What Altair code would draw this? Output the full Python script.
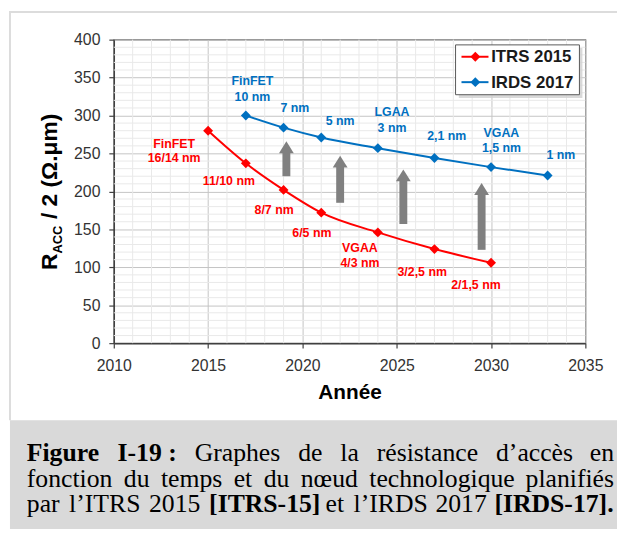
import altair as alt
import pandas as pd

# ---------------- data ----------------
series_names = ["ITRS 2015", "IRDS 2017"]
series_colors = ["#ff0000", "#0070c0"]

years_itrs = [2015, 2017, 2019, 2021, 2024, 2027, 2030]
racc_itrs = [280, 237, 202, 172, 146, 124, 106]
years_irds = [2017, 2019, 2021, 2024, 2027, 2030, 2033]
racc_irds = [300, 284, 271, 257, 244, 232, 221]

itrs_labels = ["FinFET", "16/14 nm", "11/10 nm", "8/7 nm", "6/5 nm", "VGAA", "4/3 nm", "3/2,5 nm", "2/1,5 nm"]
itrs_label_x = [2013.2, 2013.2, 2016.1, 2018.5, 2020.5, 2023.05, 2023.05, 2026.35, 2029.2]
itrs_label_y = [262, 244, 213, 175, 145, 125, 106, 94, 77]

irds_labels = ["FinFET", "10 nm", "7 nm", "5 nm", "LGAA", "3 nm", "2,1 nm", "VGAA", "1,5 nm", "1 nm"]
irds_label_x = [2017.35, 2017.35, 2019.6, 2022.0, 2024.75, 2024.75, 2027.65, 2030.55, 2030.55, 2033.7]
irds_label_y = [346, 325, 310, 293, 305, 284, 273, 277, 257, 248]

arrow_x = [2019.15, 2022.0, 2025.35, 2029.5]
arrow_base = [220, 185, 157, 123]
arrow_tip = [266, 247, 229, 211]

x_major = list(range(2010, 2036, 5))
y_major = list(range(0, 401, 50))
x_minor = [v for v in range(2010, 2036) if v % 5 != 0]
y_minor = [v for v in range(0, 401, 10) if v % 50 != 0]

# ---------------- tables ----------------
df_lines = pd.concat([
    pd.DataFrame({"year": years_itrs, "r": racc_itrs, "serie": series_names[0]}),
    pd.DataFrame({"year": years_irds, "r": racc_irds, "serie": series_names[1]}),
])
df_lab_itrs = pd.DataFrame({"x": itrs_label_x, "y": itrs_label_y, "t": itrs_labels})
df_lab_irds = pd.DataFrame({"x": irds_label_x, "y": irds_label_y, "t": irds_labels})
df_arrows = pd.DataFrame({"x": arrow_x, "base": arrow_base, "tip": arrow_tip})
df_arrows["shaft_top"] = df_arrows["tip"] - 13
df_xminor = pd.DataFrame({"v": x_minor})
df_yminor = pd.DataFrame({"v": y_minor})
one = pd.DataFrame({"a": [0]})

SANS = "Liberation Sans"
SERIF = "Liberation Serif"

xscale = alt.Scale(domain=[2010, 2035], nice=False, zero=False)
yscale = alt.Scale(domain=[0, 400], nice=False)

xaxis = alt.Axis(
    values=x_major, format="d", title="Année", labelOverlap=False, labelFlush=False,
    gridColor="#c4c4c4",
    titleFontSize=21, titleFontWeight="bold", titleColor="#000000", titlePadding=8,
)
yaxis = alt.Axis(
    values=y_major, format="d", title=None, labelOverlap=False, labelFlush=False,
    gridColor="#c4c4c4",
)


def X(field):
    return alt.X(field, type="quantitative", scale=xscale, axis=xaxis)


def Y(field):
    return alt.Y(field, type="quantitative", scale=yscale, axis=yaxis)


# minor grid lines
minor_x = alt.Chart(df_xminor).mark_rule(color="#e9e9e9", strokeWidth=1).encode(x=X("v"))
minor_y = alt.Chart(df_yminor).mark_rule(color="#e9e9e9", strokeWidth=1).encode(y=Y("v"))

color = alt.Color("serie:N", scale=alt.Scale(domain=series_names, range=series_colors), legend=None)

base = alt.Chart(df_lines).encode(
    x=X("year"), y=Y("r"), color=color, detail="serie:N",
)
lines = base.mark_line(strokeWidth=2, interpolate="monotone")
points = base.mark_point(shape="diamond", filled=True, size=100, opacity=1)

shafts = alt.Chart(df_arrows).mark_rule(strokeWidth=8, color="#808080").encode(
    x=X("x"), y=Y("base"), y2="shaft_top:Q")
heads = alt.Chart(df_arrows).mark_point(
    shape="M-1,1.6L1,1.6L0,0Z", filled=True, size=225, color="#808080", opacity=1
).encode(x=X("x"), y=Y("tip"))

lab_itrs = alt.Chart(df_lab_itrs).mark_text(
    font=SANS, fontSize=12.5, fontWeight="bold", color=series_colors[0], baseline="middle"
).encode(x=X("x"), y=Y("y"), text="t:N")
lab_irds = alt.Chart(df_lab_irds).mark_text(
    font=SANS, fontSize=12.5, fontWeight="bold", color=series_colors[1], baseline="middle"
).encode(x=X("x"), y=Y("y"), text="t:N")


def ptext(txt, x, y, **kw):
    return alt.Chart(one).mark_text(**kw).encode(
        x=alt.value(x), y=alt.value(y), text=alt.value(txt))


def prule(x, y, x2=None, y2=None, **kw):
    enc = dict(x=alt.value(x), y=alt.value(y))
    if x2 is not None:
        enc["x2"] = alt.value(x2)
    if y2 is not None:
        enc["y2"] = alt.value(y2)
    return alt.Chart(one).mark_rule(**kw).encode(**enc)


def prect(x, y, x2, y2, **kw):
    return alt.Chart(one).mark_rect(**kw).encode(
        x=alt.value(x), y=alt.value(y), x2=alt.value(x2), y2=alt.value(y2))


# y title  R_ACC / 2 (Ω.μm)
ytitle = [
    ptext("R", -57, 233, font=SANS, fontSize=23, fontWeight="bold", angle=270,
          align="left", baseline="alphabetic", color="#000000"),
    ptext("ACC", -52, 216.4, font=SANS, fontSize=13, fontWeight="bold", angle=270,
          align="left", baseline="alphabetic", color="#000000"),
    ptext("/ 2 (Ω.μm)", -57, 181.5, font=SANS, fontSize=23, fontWeight="bold", angle=270,
          align="left", baseline="alphabetic", color="#000000"),
]

# manual legend
legend = [
    prect(349, 8.5, 474, 59, color="#cfcfcf", opacity=0.8),
    prect(345.7, 5.3, 471, 55.7, color="#ffffff", stroke="#595959", strokeWidth=1),
]
for i, (nm, col) in enumerate(zip(series_names, series_colors)):
    yy = 17.3 + i * 25.7
    legend.append(prule(351.7, yy, x2=379, strokeWidth=2, color=col))
    legend.append(alt.Chart(one).mark_point(shape="diamond", filled=True, size=100, opacity=1, color=col)
                  .encode(x=alt.value(365.7), y=alt.value(yy)))
    legend.append(ptext(nm, 381.7, yy + 0.5, font=SANS, fontSize=17, fontWeight="bold",
                        align="left", baseline="middle", color="#1a1a1a"))

# frame and caption
frame = [
    prule(-105, -29, y2=385, strokeWidth=2, color="#dcdcdc"),
    prule(-105, -28, x2=510, strokeWidth=2, color="#dcdcdc"),
    prect(-105, 385, 510, 495, color="#d9d9d9"),
]

cap_kw = dict(font=SERIF, fontSize=26, align="left", baseline="alphabetic", color="#000000")
capb_kw = dict(cap_kw, fontWeight="bold")
L1, L2, L3 = 426, 452, 478
caption = [
    ptext("Figure", 27 - 115, L1, **capb_kw),
    ptext("I-19\u00a0:", 118.8 - 115, L1, **capb_kw),
    ptext("Graphes", 196.8 - 115, L1, **cap_kw),
    ptext("de", 301.5 - 115, L1, **cap_kw),
    ptext("la", 344.1 - 115, L1, **cap_kw),
    ptext("résistance", 381 - 115, L1, **cap_kw),
    ptext("d’accès", 501.6 - 115, L1, **cap_kw),
    ptext("en", 596.5 - 115, L1, **cap_kw),
    ptext("fonction", 27 - 115, L2, **cap_kw),
    ptext("du", 125.2 - 115, L2, **cap_kw),
    ptext("temps", 162.7 - 115, L2, **cap_kw),
    ptext("et", 236.3 - 115, L2, **cap_kw),
    ptext("du", 266.6 - 115, L2, **cap_kw),
    ptext("nœud", 304.1 - 115, L2, **cap_kw),
    ptext("technologique", 373.4 - 115, L2, **cap_kw),
    ptext("planifiés", 531.5 - 115, L2, **cap_kw),
    ptext("par", 27 - 115, L3, **cap_kw),
    ptext("l’ITRS", 69.8 - 115, L3, **cap_kw),
    ptext("2015", 150.6 - 115, L3, **cap_kw),
    ptext("[ITRS-15]", 211.4 - 115, L3, **capb_kw),
    ptext("et", 329.2 - 115, L3, **cap_kw),
    ptext("l’IRDS", 357.5 - 115, L3, **cap_kw),
    ptext("2017", 440.3 - 115, L3, **cap_kw),
    ptext("[IRDS-17].", 500 - 115, L3, **capb_kw),
]

chart = alt.layer(
    *frame, minor_x, minor_y, lines, points, shafts, heads, lab_itrs, lab_irds,
    *legend, *ytitle, *caption
).properties(
    width=477, height=307,
    autosize=alt.AutoSizeParams(type="none"),
    padding={"left": 107, "top": 29, "right": 32, "bottom": 188},
    background="#ffffff",
).configure_view(
    stroke="#595959", strokeWidth=1.2
).configure_axis(
    labelFont=SANS, labelFontSize=16, labelColor="#333333",
    titleFont=SANS,
    domainColor="#404040", domainWidth=1.5,
    tickColor="#404040", tickSize=5, tickWidth=1.2,
    gridWidth=1,
).configure_axisY(labelPadding=9).configure_axisX(labelPadding=10)

chart.save("out.html", embed_options={"renderer": "svg", "actions": False})
